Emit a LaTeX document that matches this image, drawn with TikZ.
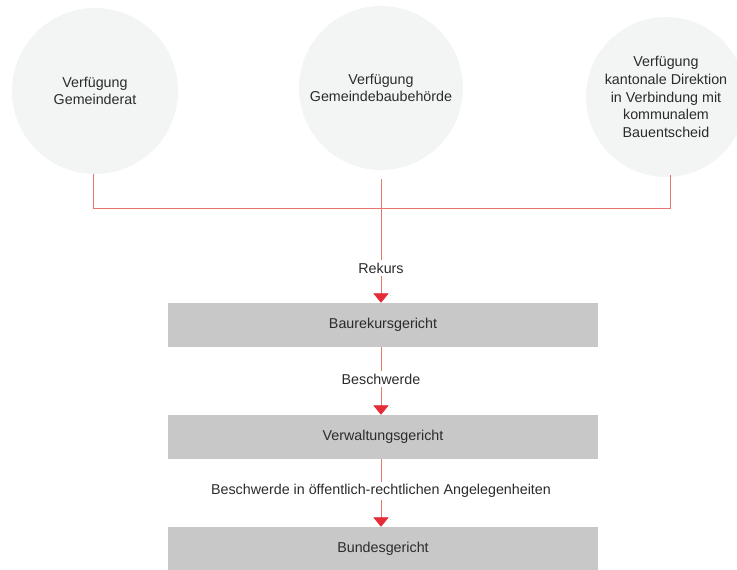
\documentclass[tikz,border=0pt]{standalone}
\usepackage{fontspec}
\setmainfont{Liberation Sans}
\usetikzlibrary{arrows.meta}
\definecolor{circlegray}{HTML}{F3F5F4}
\definecolor{boxgray}{HTML}{C8C8C8}
\definecolor{linered}{HTML}{E4766E}
\definecolor{tipred}{HTML}{E52B38}
\definecolor{textgray}{HTML}{2B2B2B}
\tikzset{
  instance/.style={circle,fill=circlegray,align=center,text=textgray,
    font=\fontsize{12.2}{15}\selectfont},
  court/.style={rectangle,fill=boxgray,minimum width=12.9cm,text=textgray,
    minimum height=1.32cm,font=\fontsize{12.2}{14}\selectfont},
  remedy/.style={fill=white,inner sep=2pt,text=textgray,font=\fontsize{12.2}{14}\selectfont},
  link/.style={draw=linered,line width=0.6pt},
  appeal/.style={link,-{Triangle[width=13pt,length=8pt,color=tipred]}}
}
\begin{document}
\begin{tikzpicture}[x=0.03cm,y=-0.03cm]
    \useasboundingbox (0,0) rectangle (737,570);

    % Verfügungen
    \node[instance,minimum size=4.98cm] (gemeinderat) at (95,91) {Verfügung\\Gemeinderat};
    \node[instance,minimum size=4.92cm] (baubehoerde) at (381,88) {Verfügung\\Gemeindebaubehörde};
    \node[instance,minimum size=4.8cm] (direktion) at (666,97)
        {Verfügung\\kantonale Direktion\\in Verbindung mit\\kommunalem\\Bauentscheid};

    % Gerichte
    \node[court] (brg) at (383,325) {Baurekursgericht};
    \node[court] (vg) at (383,437) {Verwaltungsgericht};
    \node[court] (bg) at (383,549) {Bundesgericht};

    % Zusammenführung
    \coordinate (left) at (93,208);
    \coordinate (right) at (670,208);
    \coordinate (top) at (381,179);
    \draw[link] (93,174) -- (left) -- (right) -- (670,175);
    \draw[appeal] (top) -- (top |- brg.north);

    % Rechtsmittel
    \node[remedy] (rekurs) at (381,268) {Rekurs};
    \draw[appeal] (brg.south -| top) -- (vg.north -| top);
    \node[remedy] (beschwerde) at (381,379) {Beschwerde};
    \draw[appeal] (vg.south -| top) -- (bg.north -| top);
    \node[remedy] (oeffentlich) at (381,491) {Beschwerde in öffentlich-rechtlichen Angelegenheiten};
\end{tikzpicture}
\end{document}
